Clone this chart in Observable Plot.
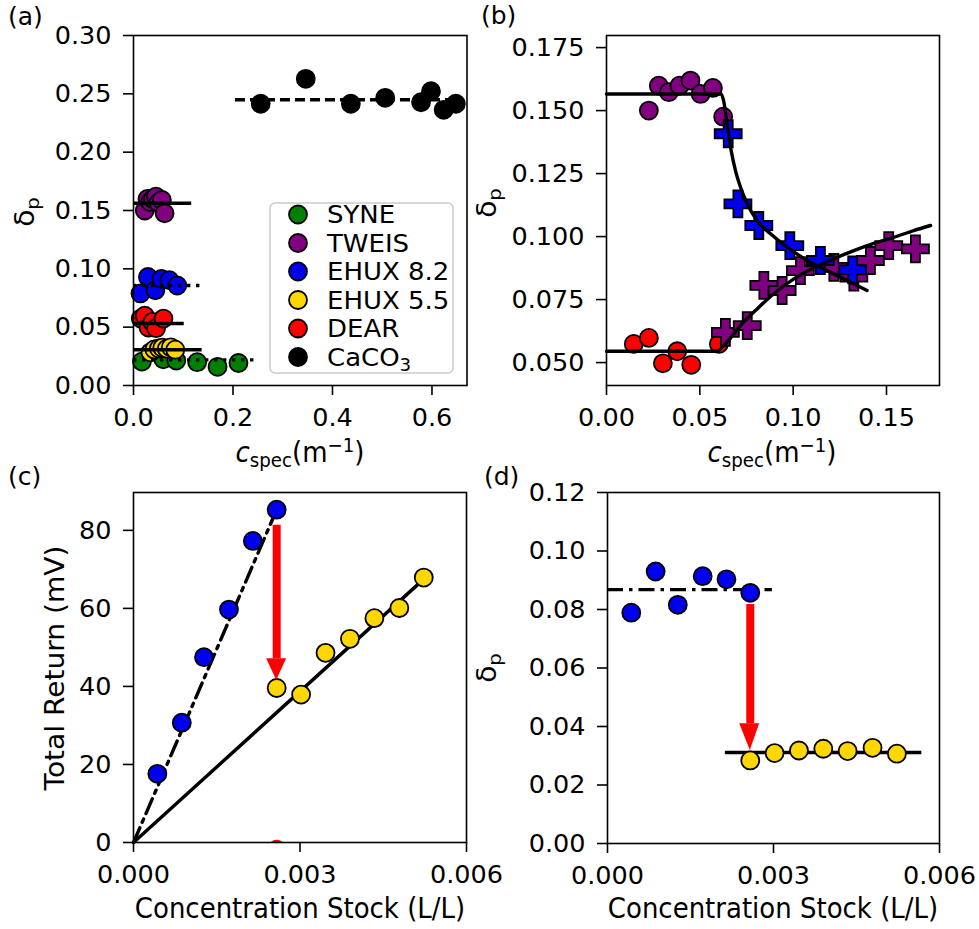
<!DOCTYPE html>
<html><head><meta charset="utf-8">
<script src="https://cdn.jsdelivr.net/npm/d3@7"></script>
<script src="https://cdn.jsdelivr.net/npm/@observablehq/plot@0.6"></script>
<style>
html,body{margin:0;padding:0;background:#fff;}
#root{position:relative;width:979px;height:929px;overflow:hidden;background:#fff;}
#root > div{position:absolute;}
#overlay{position:absolute;left:0;top:0;pointer-events:none;}
</style></head><body><div id="root"></div>
<script>
// ---------------- DATA ----------------
const panelLabels = ["(a)", "(b)", "(c)", "(d)"];
const seriesNames = ["SYNE", "TWEIS", "EHUX 8.2", "EHUX 5.5", "DEAR", "CaCO₃"];
const seriesColors = ["#008000", "#800080", "#0000ee", "#ffd700", "#ff0000", "#000000"];

// panel (a): delta_p vs c_spec
const syneX = [0.017, 0.060, 0.086, 0.128, 0.169, 0.211];
const syneY = [0.0205, 0.0225, 0.0214, 0.0200, 0.0160, 0.0193];
const tweisX = [0.0227, 0.0280, 0.0334, 0.0391, 0.0450, 0.0504, 0.0570, 0.0625];
const tweisY = [0.1500, 0.1599, 0.1573, 0.1599, 0.1619, 0.1566, 0.1590, 0.1476];
const ehux82CspecX = [0.014, 0.029, 0.044, 0.056, 0.072, 0.088];
const ehux82Delta = [0.0789, 0.0930, 0.0816, 0.0914, 0.0903, 0.0857];
const ehux55CspecX = [0.034, 0.042, 0.051, 0.058, 0.067, 0.075, 0.084];
const ehux55Delta = [0.0284, 0.0309, 0.0318, 0.0324, 0.0316, 0.0327, 0.0307];
const dearX = [0.0146, 0.0227, 0.0302, 0.0379, 0.0454, 0.0602];
const dearY = [0.0574, 0.0598, 0.0497, 0.0545, 0.0491, 0.0574];
const caco3X = [0.2557, 0.3463, 0.4369, 0.5060, 0.5780, 0.5980, 0.6235, 0.6480];
const caco3Y = [0.2415, 0.2629, 0.2415, 0.2466, 0.2428, 0.2523, 0.2363, 0.2415];
// horizontal fit levels in (a), per series
const fitAStart = [0, 0, 0, 0, 0, 0.205];
const fitAEnd = [0.250, 0.117, 0.138, 0.138, 0.102, 0.659];
const fitALevel = [0.0220, 0.1562, 0.0857, 0.0306, 0.0532, 0.2449];
const aXTicks = [0, 0.2, 0.4, 0.6];
const aYTicks = [0, 0.05, 0.10, 0.15, 0.20, 0.25, 0.30];

// panel (b): mixtures (crosses)
const bEhuxCrossX = [0.0652, 0.0704, 0.0816, 0.0982, 0.1146, 0.1319];
const bEhuxCrossY = [0.1408, 0.1130, 0.1044, 0.0964, 0.0905, 0.0868];
const bTweisCrossX = [0.0637, 0.0754, 0.0843, 0.0941, 0.1039, 0.1218, 0.1325, 0.1414, 0.1512, 0.1655];
const bTweisCrossY = [0.0620, 0.0647, 0.0806, 0.0786, 0.0865, 0.0878, 0.0839, 0.0905, 0.0964, 0.0951];
const bFallCurveX = [0, 0.0614, 0.0629, 0.0646, 0.0668, 0.0691, 0.0718, 0.0754, 0.0807, 0.0879, 0.0968, 0.1075, 0.1218, 0.1396];
const bFallCurveY = [0.1566, 0.1566, 0.1533, 0.1447, 0.1341, 0.1262, 0.1196, 0.1130, 0.1063, 0.1011, 0.0958, 0.0905, 0.0852, 0.0786];
const bRiseCurveX = [0, 0.0593, 0.0620, 0.0646, 0.0718, 0.0807, 0.0896, 0.1004, 0.1111, 0.1218, 0.1325, 0.1432, 0.1539, 0.1646, 0.1736];
const bRiseCurveY = [0.0545, 0.0545, 0.0561, 0.0581, 0.0647, 0.0713, 0.0773, 0.0832, 0.0876, 0.0912, 0.0944, 0.0973, 0.0997, 0.1024, 0.1044];
const bXTicks = [0, 0.05, 0.10, 0.15];
const bYTicks = [0.050, 0.075, 0.100, 0.125, 0.150, 0.175];

// panels (c), (d): vs stock concentration
const concBlue = [0.00043, 0.00087, 0.00127, 0.00172, 0.00215, 0.00258];
const returnBlue = [17.6, 30.7, 47.5, 59.7, 77.3, 85.3];
const concYellow = [0.00258, 0.00302, 0.00346, 0.00390, 0.00434, 0.00479, 0.00523];
const returnYellow = [39.6, 37.9, 48.6, 52.2, 57.5, 60.1, 67.9];
const cFitBlueX = [0, 0.00258];
const cFitBlueY = [0, 85.3];
const cFitYellowX = [0, 0.00523];
const cFitYellowY = [0, 67.5];
const cArrow = {x: 0.00258, top: 81.3, base: 47.1, tip: 41.5, left: 0.00240, right: 0.00276};
const cClippedX = [0.00258];
const cClippedY = [-1.6];
const dFitBlue = {x1: 0, x2: 0.00298, y: 0.0868};
const dFitYellow = {x1: 0.00213, x2: 0.00568, y: 0.0311};
const dArrow = {x: 0.00258, top: 0.0817, base: 0.0409, tip: 0.0318, left: 0.00239, right: 0.00275};
const cdXTicks = [0, 0.003, 0.006];
const cYTicks = [0, 20, 40, 60, 80];
const dYTicks = [0, 0.02, 0.04, 0.06, 0.08, 0.10, 0.12];

// ---------------- DRAWING ----------------
const FONT = "'DejaVu Sans', sans-serif";
const K = 1.08; // vertical glyph stretch seen in the reference (axis labels)
const root = document.getElementById("root");
const style = {fontFamily: FONT, fontSize: "25.5px", color: "black", background: "transparent", overflow: "visible"};
const colorScale = {domain: seriesNames, range: seriesColors};
const pts = (xs, ys, name) => xs.map((x, i) => ({x, y: ys[i], name}));

function place(node, left, top) {
  const d = document.createElement("div");
  d.style.left = left + "px"; d.style.top = top + "px";
  d.appendChild(node); root.appendChild(d);
}
function axes(xTicks, xFmt, yTicks, yFmt) {
  const common = {tickSize: 10, tickPadding: 12, strokeWidth: 1.6, label: null, fontSize: 25.5};
  return [
    Plot.axisX({...common, ticks: xTicks, tickFormat: d3.format(xFmt)}),
    Plot.axisY({...common, ticks: yTicks, tickFormat: d3.format(yFmt)})
  ];
}
const dotStyle = {r: 9, stroke: "black", strokeWidth: 1.8};
const plusFilled = {
  draw(ctx, size) {
    const r = Math.sqrt(size / Math.PI), w = r / 3;
    ctx.moveTo(-w, -r); ctx.lineTo(w, -r); ctx.lineTo(w, -w); ctx.lineTo(r, -w);
    ctx.lineTo(r, w); ctx.lineTo(w, w); ctx.lineTo(w, r); ctx.lineTo(-w, r);
    ctx.lineTo(-w, w); ctx.lineTo(-r, w); ctx.lineTo(-r, -w); ctx.lineTo(-w, -w);
    ctx.closePath();
  }
};
const LW = 3.4;

// ----- (a)
const aPoints = [
  ...pts(syneX, syneY, seriesNames[0]),
  ...pts(tweisX, tweisY, seriesNames[1]),
  ...pts(ehux82CspecX, ehux82Delta, seriesNames[2]),
  ...pts(ehux55CspecX, ehux55Delta, seriesNames[3]),
  ...pts(dearX, dearY, seriesNames[4]),
  ...pts(caco3X, caco3Y, seriesNames[5])
];
const aFits = seriesNames.map((name, i) => ({name, x1: fitAStart[i], x2: fitAEnd[i], y: fitALevel[i]}));
const byName = (names) => aFits.filter(d => names.includes(d.name));
const plotA = Plot.plot({
  width: 490, height: 460, marginLeft: 133, marginRight: 23.5, marginTop: 35, marginBottom: 75,
  x: {domain: [0, 0.6704]}, y: {domain: [0, 0.30]}, color: colorScale, style,
  marks: [
    ...axes(aXTicks, ".1f", aYTicks, ".2f"),
    Plot.dot(aPoints, {x: "x", y: "y", fill: "name", ...dotStyle}),
    Plot.ruleY(byName(["TWEIS", "EHUX 5.5", "DEAR"]), {x1: "x1", x2: "x2", y: "y", stroke: "black", strokeWidth: LW}),
    Plot.ruleY(byName(["SYNE", "EHUX 8.2"]), {x1: "x1", x2: "x2", y: "y", stroke: "black", strokeWidth: LW, strokeDasharray: "3.4,5.6"}),
    Plot.ruleY(byName(["CaCO₃"]), {x1: "x1", x2: "x2", y: "y", stroke: "black", strokeWidth: LW, strokeDasharray: "10,5"}),
    Plot.frame({stroke: "black", strokeWidth: 1.6})
  ]
});
place(plotA, 0, 0);

// ----- (b)
const plotB = Plot.plot({
  width: 489, height: 460, marginLeft: 116, marginRight: 40, marginTop: 35, marginBottom: 75,
  x: {domain: [0, 0.1784]}, y: {domain: [0.0409, 0.1798]}, color: colorScale, style,
  marks: [
    ...axes(bXTicks, ".2f", bYTicks, ".3f"),
    Plot.dot(pts(dearX, dearY, "DEAR"), {x: "x", y: "y", fill: "name", ...dotStyle}),
    Plot.dot(pts(tweisX, tweisY, "TWEIS"), {x: "x", y: "y", fill: "name", ...dotStyle}),
    Plot.dot(pts(bTweisCrossX, bTweisCrossY, "TWEIS"), {x: "x", y: "y", fill: "name", symbol: plusFilled, r: 13.5, stroke: "black", strokeWidth: 1.8}),
    Plot.dot(pts(bEhuxCrossX, bEhuxCrossY, "EHUX 8.2"), {x: "x", y: "y", fill: "name", symbol: plusFilled, r: 13.5, stroke: "black", strokeWidth: 1.8}),
    Plot.line(pts(bFallCurveX, bFallCurveY), {x: "x", y: "y", stroke: "black", strokeWidth: LW, curve: "monotone-x"}),
    Plot.line(pts(bRiseCurveX, bRiseCurveY), {x: "x", y: "y", stroke: "black", strokeWidth: LW, curve: "monotone-x"}),
    Plot.frame({stroke: "black", strokeWidth: 1.6})
  ]
});
place(plotB, 490, 0);

// arrow helpers
const arrowMarks = (a) => [
  Plot.ruleX([a], {x: "x", y1: "top", y2: "base", stroke: "#ff0000", strokeWidth: 8}),
  Plot.areaY([{x: a.left, y2: a.base}, {x: a.x, y2: a.tip}, {x: a.right, y2: a.base}],
    {x: "x", y1: () => a.base, y2: "y2", fill: "#ff0000"})
];

// ----- (c)
const plotC = Plot.plot({
  width: 490, height: 469, marginLeft: 133, marginRight: 24, marginTop: 32, marginBottom: 87,
  x: {domain: [0, 0.006]}, y: {domain: [0, 89.7]}, color: colorScale, style,
  marks: [
    ...axes(cdXTicks, ".3f", cYTicks, "d"),
    Plot.dot(pts(cClippedX, cClippedY), {x: "x", y: "y", r: 9, fill: "#ff0000", clip: true}),
    Plot.line(pts(cFitBlueX, cFitBlueY), {x: "x", y: "y", stroke: "black", strokeWidth: LW, strokeDasharray: "16,6,3.5,6"}),
    Plot.line(pts(cFitYellowX, cFitYellowY), {x: "x", y: "y", stroke: "black", strokeWidth: LW}),
    Plot.dot(pts(concBlue, returnBlue, "EHUX 8.2"), {x: "x", y: "y", fill: "name", ...dotStyle}),
    Plot.dot(pts(concYellow, returnYellow, "EHUX 5.5"), {x: "x", y: "y", fill: "name", ...dotStyle}),
    ...arrowMarks(cArrow),
    Plot.frame({stroke: "black", strokeWidth: 1.6})
  ]
});
place(plotC, 0, 460);

// ----- (d)
const plotD = Plot.plot({
  width: 489, height: 469, marginLeft: 117, marginRight: 40, marginTop: 32, marginBottom: 86,
  x: {domain: [0, 0.006]}, y: {domain: [0, 0.12]}, color: colorScale, style,
  marks: [
    ...axes(cdXTicks, ".3f", dYTicks, ".2f"),
    Plot.ruleY([dFitBlue], {x1: "x1", x2: "x2", y: "y", stroke: "black", strokeWidth: LW, strokeDasharray: "16,6,3.5,6"}),
    Plot.ruleY([dFitYellow], {x1: "x1", x2: "x2", y: "y", stroke: "black", strokeWidth: LW}),
    Plot.dot(pts(concBlue, ehux82Delta, "EHUX 8.2"), {x: "x", y: "y", fill: "name", ...dotStyle}),
    Plot.dot(pts(concYellow, ehux55Delta, "EHUX 5.5"), {x: "x", y: "y", fill: "name", ...dotStyle}),
    ...arrowMarks(dArrow),
    Plot.frame({stroke: "black", strokeWidth: 1.6})
  ]
});
place(plotD, 490, 460);

// ----- overlay: panel letters, axis labels, legend
const ov = d3.select(root).append("svg").attr("id", "overlay")
  .attr("width", 979).attr("height", 929)
  .attr("font-family", FONT).attr("fill", "black");

const FS = 26;
function rich(x, y, parts, rotate) {
  const t = ov.append("text").attr("text-anchor", "middle").attr("font-size", FS)
    .attr("transform", `translate(${x},${y})` + (rotate ? ` rotate(-90) scale(${K},1)` : ` scale(1,${K})`));
  let shift = 0;
  for (const p of parts) {
    const s = p.sub ? 5 : p.sup ? -9 : 0;
    const sp = t.append("tspan").text(p.t).attr("dy", s - shift);
    if (p.sub || p.sup) sp.attr("font-size", FS * 0.7);
    if (p.it) sp.attr("font-style", "italic");
    shift = s;
  }
  return t;
}
const deltaP = [{t: "δ"}, {t: "p", sub: true}];
const cspec = [{t: "c", it: true}, {t: "spec", sub: true}, {t: "(m"}, {t: "−1", sup: true}, {t: ")"}];

// panel letters
[[8, 25], [481, 24], [8, 485], [484, 485]].forEach(([x, y], i) =>
  ov.append("text").attr("x", x).attr("y", y).attr("font-size", 25).text(panelLabels[i]));

// y labels
rich(34, 212, deltaP, true);
rich(496, 203, deltaP, true);
rich(64, 668, [{t: "Total Return (mV)"}], true);
rich(496, 668, deltaP, true);
// x labels
rich(300, 462, cspec);
rich(772, 462, cspec);
rich(300, 918, [{t: "Concentration Stock (L/L)"}]);
rich(773, 918, [{t: "Concentration Stock (L/L)"}]);

// legend (panel a)
const LFS = 24.4;
const subDigits = "₀₁₂₃₄₅₆₇₈₉";
const lg = ov.append("g");
lg.append("rect").attr("x", 270).attr("y", 203).attr("width", 183).attr("height", 170)
  .attr("rx", 5).attr("fill", "white").attr("fill-opacity", 0.8)
  .attr("stroke", "#cccccc").attr("stroke-width", 1.5);
seriesNames.forEach((name, i) => {
  const cy = 214.5 + i * 28.5;
  lg.append("circle").attr("cx", 298).attr("cy", cy).attr("r", 9)
    .attr("fill", seriesColors[i]).attr("stroke", "black").attr("stroke-width", 1.8);
  const t = lg.append("text").attr("transform", `translate(327,${cy}) scale(1.065,1)`)
    .attr("dy", "0.36em").attr("font-size", LFS);
  // render unicode subscript digits as lowered small digits
  let buf = "", lowered = false;
  const flush = (sub) => {
    if (!buf) return;
    const sp = t.append("tspan").text(buf);
    if (sub) sp.attr("font-size", LFS * 0.7).attr("dy", lowered ? 0 : 5);
    else if (lowered) sp.attr("dy", -5);
    lowered = sub; buf = "";
  };
  let curSub = false;
  for (const ch of name) {
    const k = subDigits.indexOf(ch);
    const isSub = k >= 0;
    if (isSub !== curSub) { flush(curSub); curSub = isSub; }
    buf += isSub ? String(k) : ch;
  }
  flush(curSub);
});
</script></body></html>
